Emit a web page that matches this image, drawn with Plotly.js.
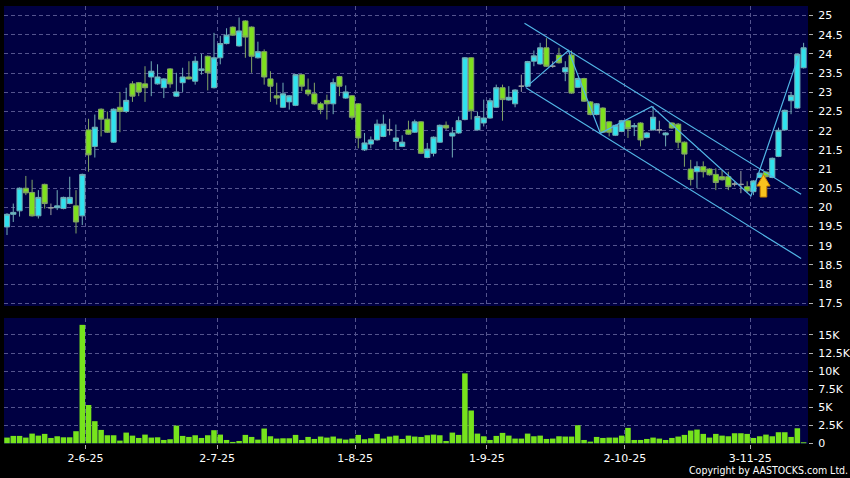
<!DOCTYPE html>
<html>
<head>
<meta charset="utf-8">
<script src="https://cdn.plot.ly/plotly-3.0.1.min.js"></script>
<style>
html,body{margin:0;padding:0;background:#000;}
#chart{width:850px;height:478px;}
</style>
</head>
<body>
<div id="chart"></div>
<script>
// ---- data ----
const dates = [
"2025-05-14","2025-05-15","2025-05-16","2025-05-19","2025-05-20","2025-05-21","2025-05-22","2025-05-23","2025-05-26","2025-05-27",
"2025-05-28","2025-05-29","2025-05-30","2025-06-02","2025-06-03","2025-06-04","2025-06-05","2025-06-06","2025-06-09","2025-06-10",
"2025-06-11","2025-06-12","2025-06-13","2025-06-16","2025-06-17","2025-06-18","2025-06-19","2025-06-20","2025-06-23","2025-06-24",
"2025-06-25","2025-06-26","2025-06-27","2025-06-30","2025-07-02","2025-07-03","2025-07-04","2025-07-07","2025-07-08","2025-07-09",
"2025-07-10","2025-07-11","2025-07-14","2025-07-15","2025-07-16","2025-07-17","2025-07-18","2025-07-21","2025-07-22","2025-07-23",
"2025-07-24","2025-07-25","2025-07-28","2025-07-29","2025-07-30","2025-07-31","2025-08-01","2025-08-04","2025-08-05","2025-08-06",
"2025-08-07","2025-08-08","2025-08-11","2025-08-12","2025-08-13","2025-08-14","2025-08-15","2025-08-18","2025-08-19","2025-08-20",
"2025-08-21","2025-08-22","2025-08-25","2025-08-26","2025-08-27","2025-08-28","2025-08-29","2025-09-01","2025-09-02","2025-09-03",
"2025-09-04","2025-09-05","2025-09-08","2025-09-09","2025-09-10","2025-09-11","2025-09-12","2025-09-15","2025-09-16","2025-09-17",
"2025-09-18","2025-09-19","2025-09-22","2025-09-23","2025-09-24","2025-09-25","2025-09-26","2025-09-29","2025-09-30","2025-10-02",
"2025-10-03","2025-10-06","2025-10-08","2025-10-09","2025-10-10","2025-10-13","2025-10-14","2025-10-15","2025-10-16","2025-10-17",
"2025-10-20","2025-10-21","2025-10-22","2025-10-23","2025-10-24","2025-10-27","2025-10-28","2025-10-30","2025-10-31","2025-11-03",
"2025-11-04","2025-11-05","2025-11-06","2025-11-07","2025-11-10","2025-11-11","2025-11-12","2025-11-13"];

const openP = [
19.49,19.82,19.91,20.50,20.39,19.78,20.60,19.99,19.99,19.97,
20.10,20.04,19.78,22.02,21.59,22.56,22.30,21.70,22.61,22.50,
23.22,23.25,23.22,23.40,23.22,23.12,23.61,22.90,23.25,23.40,
23.29,23.57,23.94,23.12,23.90,24.27,24.70,24.21,24.86,24.70,
23.90,24.06,23.35,22.91,22.61,22.75,22.66,23.46,23.06,22.96,
22.70,22.79,22.70,23.41,22.85,22.91,22.70,21.50,21.65,21.76,
21.85,22.02,21.72,21.59,22.02,21.96,22.23,21.30,21.41,21.70,
22.14,21.86,21.94,22.29,23.90,22.02,22.20,22.33,22.61,23.12,
22.80,22.70,23.16,23.16,23.81,23.74,24.16,23.68,23.97,23.53,
23.97,23.13,23.36,22.75,22.42,22.59,22.23,21.88,21.98,22.26,
22.10,22.20,21.82,22.02,22.02,21.89,22.20,22.17,21.70,21.00,
20.93,21.06,21.00,20.86,20.80,20.80,20.61,20.60,20.54,20.41,
20.78,20.92,20.78,21.33,22.02,22.78,22.59,23.64];

const highP = [
19.85,20.10,20.52,20.82,20.72,20.45,20.62,20.10,20.45,20.28,
20.80,20.45,20.88,22.31,22.42,22.58,22.50,22.58,23.01,23.12,
23.29,23.27,23.68,23.81,23.73,23.37,23.63,23.51,23.64,23.81,
23.94,24.00,23.96,24.55,24.47,24.67,24.72,24.95,24.88,24.72,
24.32,24.12,23.55,23.25,23.25,22.93,23.48,23.48,23.36,23.25,
22.75,22.94,23.36,23.43,23.18,22.93,22.72,21.94,21.85,22.29,
22.42,22.31,22.16,21.88,22.26,22.29,22.25,21.68,21.85,22.16,
22.24,22.09,22.37,23.92,23.92,22.50,22.81,22.85,23.20,23.20,
23.16,23.08,23.46,23.82,24.09,24.29,24.41,23.81,24.16,23.81,
24.09,23.38,23.38,22.77,22.72,22.61,22.25,22.16,22.28,22.28,
22.20,22.22,21.96,22.64,22.26,21.96,22.22,22.20,21.72,21.24,
21.20,21.20,21.02,21.02,20.98,20.93,20.66,20.95,20.68,20.71,
20.91,20.94,21.30,22.08,22.55,23.01,24.01,24.29];

const lowP = [
19.28,19.62,19.76,20.32,19.76,19.71,19.97,19.80,19.93,19.95,
20.08,19.32,19.54,20.93,21.30,21.85,21.94,21.68,21.96,22.46,
22.75,22.90,22.75,22.90,23.20,22.85,23.12,22.88,23.01,23.33,
23.20,23.46,23.05,23.10,23.73,24.25,24.47,24.19,23.90,23.51,
23.88,23.20,22.75,22.68,22.59,22.55,22.64,23.03,22.90,22.68,
22.43,22.29,22.43,22.90,22.83,22.29,21.54,21.47,21.54,21.74,
21.83,21.88,21.50,21.57,21.89,21.94,21.39,21.28,21.33,21.68,
22.02,21.30,21.92,22.27,22.29,22.00,22.11,22.31,22.59,22.26,
22.78,22.61,23.01,23.14,23.68,23.72,23.66,23.64,23.75,23.29,
22.96,23.11,22.75,22.40,22.40,21.94,21.85,21.86,21.96,21.81,
21.86,21.59,21.80,22.00,21.93,21.59,22.05,21.54,21.06,20.57,
20.50,20.78,20.83,20.45,20.70,20.45,20.55,20.37,20.37,20.32,
20.76,20.78,20.76,21.31,22.00,22.43,22.57,23.62];

const closeP = [
19.82,19.87,20.50,20.38,19.78,20.26,20.10,19.99,20.04,20.26,
20.26,19.62,20.86,21.37,22.09,22.30,21.96,22.56,22.50,22.79,
22.90,23.01,23.12,23.55,23.40,23.35,23.22,23.01,23.40,23.35,
23.81,23.61,23.51,23.90,24.27,24.49,24.49,24.60,24.44,23.94,
24.06,23.40,23.16,22.85,22.96,22.91,23.46,23.16,22.96,22.70,
22.55,22.70,23.25,23.16,23.01,22.35,21.81,21.68,21.76,22.17,
22.17,22.02,21.81,21.70,21.91,22.23,21.41,21.52,21.83,22.14,
22.07,21.94,22.26,23.90,22.52,22.37,22.33,22.78,23.12,22.81,
22.87,23.06,23.16,23.80,23.95,24.16,23.68,23.68,23.77,23.64,
22.98,23.36,22.77,22.42,22.70,21.96,21.96,22.14,22.26,22.05,
22.13,21.76,21.94,22.35,22.02,21.94,22.07,21.70,21.39,20.73,
21.06,20.93,20.85,20.65,20.72,20.54,20.61,20.60,20.43,20.69,
20.89,20.80,21.28,22.01,22.53,22.92,23.99,24.16];

const volume = [
790,1020,1020,790,1340,1060,1300,740,970,830,
830,1670,16400,5300,3060,1850,1110,1110,370,1480,
1060,740,1200,790,830,460,560,2450,1020,880,
1110,740,1110,1810,1200,460,190,320,1160,880,
510,2040,970,650,690,690,1160,460,880,600,
930,790,930,650,510,650,1160,560,690,1300,
650,930,1060,600,1060,930,880,1110,1200,1110,
320,1480,1160,9680,4540,1340,970,460,1020,1440,
1060,650,650,1340,970,1060,600,650,970,930,
930,2500,460,230,880,740,790,790,1060,2130,
460,460,600,790,650,460,740,930,1160,1760,
1900,1300,790,1300,1060,970,1390,1390,1300,740,
970,1200,970,1530,1530,880,2080,140];

const priceTicks = [17.5,18,18.5,19,19.5,20,20.5,21,21.5,22,22.5,23,23.5,24,24.5,25];
const priceTickText = ["17.5","18","18.5","19","19.5","20","20.5","21","21.5","22","22.5","23","23.5","24","24.5","25"];
const volTicks = [0,2500,5000,7500,10000,12500,15000];
const volTickText = ["0","2.5K","5K","7.5K","10K","12.5K","15K"];
const monthTickDates = ["2025-06-02","2025-07-02","2025-08-01","2025-09-01","2025-10-02","2025-11-03"];
const monthTickLabels = ["2-6-25","2-7-25","1-8-25","1-9-25","2-10-25","3-11-25"];

// hand-drawn trend lines (x in trading-day index, y in price)
const channelUpperX = [82.5, 126.6];
const channelUpperY = [24.80, 20.34];
const channelLowerX = [82.8, 126.6];
const channelLowerY = [23.11, 18.67];
const zigzagX = [82.7, 89.5, 94.6, 102.8, 118.6, 126.2];
const zigzagY = [23.13, 24.09, 21.93, 22.63, 20.30, 23.95];
const signalArrowX = 120.6;
const signalArrowY = 20.27;

// ---- build traces ----
const idx = dates.map((d, i) => i);
const normal = {x: [], o: [], h: [], l: [], c: []};
const doji = {x: [], o: [], h: [], l: [], c: []};
idx.forEach(i => {
  const t = (openP[i] === closeP[i]) ? doji : normal;
  t.x.push(i); t.o.push(openP[i]); t.h.push(highP[i]); t.l.push(lowP[i]); t.c.push(closeP[i]);
});

const UP = '#2fe3ee', DOWN = '#7ee01e';
const traces = [
  {
    type: 'candlestick', x: normal.x, open: normal.o, high: normal.h, low: normal.l, close: normal.c,
    xaxis: 'x', yaxis: 'y', hoverinfo: 'skip',
    increasing: {fillcolor: UP, line: {color: '#72aeb6', width: 1}},
    decreasing: {fillcolor: DOWN, line: {color: '#82a466', width: 1}},
    whiskerwidth: 0
  },
  {
    type: 'candlestick', x: doji.x, open: doji.o, high: doji.h, low: doji.l, close: doji.c,
    xaxis: 'x', yaxis: 'y', hoverinfo: 'skip',
    increasing: {fillcolor: '#9aa0a0', line: {color: '#9aa0a0', width: 1}},
    decreasing: {fillcolor: '#9aa0a0', line: {color: '#9aa0a0', width: 1}},
    whiskerwidth: 0
  },
  {type: 'scatter', mode: 'lines', x: channelUpperX, y: channelUpperY, xaxis: 'x', yaxis: 'y',
   line: {color: '#52b6e6', width: 1.2}, hoverinfo: 'skip'},
  {type: 'scatter', mode: 'lines', x: channelLowerX, y: channelLowerY, xaxis: 'x', yaxis: 'y',
   line: {color: '#52b6e6', width: 1.2}, hoverinfo: 'skip'},
  {type: 'scatter', mode: 'lines', x: zigzagX, y: zigzagY, xaxis: 'x', yaxis: 'y',
   line: {color: '#52b6e6', width: 1.2}, hoverinfo: 'skip'},
  {type: 'bar', x: idx, y: volume, xaxis: 'x2', yaxis: 'y2', hoverinfo: 'skip',
   marker: {color: '#76e31c', line: {width: 0}}}
];

const monthTickVals = monthTickDates.map(d => dates.indexOf(d) - 0.5);
const GRID = '#54548e';
const FONT = {family: 'DejaVu Sans, sans-serif', size: 11, color: '#ffffff'};
const xRange = [-0.48, 127.7];

const layout = {
  width: 850, height: 478,
  paper_bgcolor: '#000000', plot_bgcolor: '#000042',
  margin: {l: 4, r: 42, t: 6, b: 34, pad: 0},
  showlegend: false,
  bargap: 0.12,
  boxgap: 0.18,
  boxgroupgap: 0,
  font: FONT,
  xaxis: {
    domain: [0, 1], anchor: 'y', range: xRange, type: 'linear',
    tickvals: monthTickVals, ticktext: monthTickLabels, showticklabels: false, ticks: '',
    showgrid: true, gridcolor: GRID, gridwidth: 1, griddash: '4px,3px',
    zeroline: false, showline: false, rangeslider: {visible: false}, fixedrange: true
  },
  yaxis: {
    domain: [0.3151, 1], anchor: 'x', range: [17.43, 25.25], side: 'right',
    tickvals: priceTicks, ticktext: priceTickText, ticks: 'outside', ticklen: 4, tickcolor: '#b0b0b0',
    ticklabelstandoff: 3, tickfont: FONT,
    showgrid: true, gridcolor: GRID, gridwidth: 1, griddash: '4px,3px',
    zeroline: false, showline: false, fixedrange: true
  },
  xaxis2: {
    domain: [0, 1], anchor: 'y2', range: xRange, type: 'linear',
    tickvals: monthTickVals, ticktext: monthTickLabels, ticks: 'outside', ticklen: 4, tickcolor: '#b0b0b0',
    tickfont: FONT,
    showgrid: true, gridcolor: GRID, gridwidth: 1, griddash: '4px,3px',
    zeroline: false, showline: false, fixedrange: true
  },
  yaxis2: {
    domain: [0, 0.2877], anchor: 'x2', range: [-100, 17350], side: 'right',
    tickvals: volTicks, ticktext: volTickText, ticks: 'outside', ticklen: 4, tickcolor: '#b0b0b0',
    ticklabelstandoff: 3, tickfont: FONT,
    showgrid: true, gridcolor: GRID, gridwidth: 1, griddash: '4px,3px',
    zeroline: false, showline: false, fixedrange: true
  },
  shapes: [
    {
      type: 'path', xref: 'x', yref: 'y', layer: 'above',
      xsizemode: 'pixel', ysizemode: 'pixel', xanchor: signalArrowX, yanchor: signalArrowY,
      path: 'M -3.3 0 L 3.3 0 L 3.3 11 L 6.6 11 L 0 22.5 L -6.6 11 L -3.3 11 Z',
      fillcolor: '#f8c21e', line: {color: '#c98000', width: 1}
    }
  ],
  annotations: [
    {
      text: 'Copyright by AASTOCKS.com Ltd.', xref: 'paper', yref: 'paper',
      x: 1.0525, y: -0.0594, xanchor: 'right', yanchor: 'middle', showarrow: false,
      font: {family: 'DejaVu Sans Condensed, DejaVu Sans, sans-serif', size: 10.5, color: '#ffffff'}
    }
  ]
};

Plotly.newPlot('chart', traces, layout, {staticPlot: true, displayModeBar: false});
</script>
</body>
</html>
